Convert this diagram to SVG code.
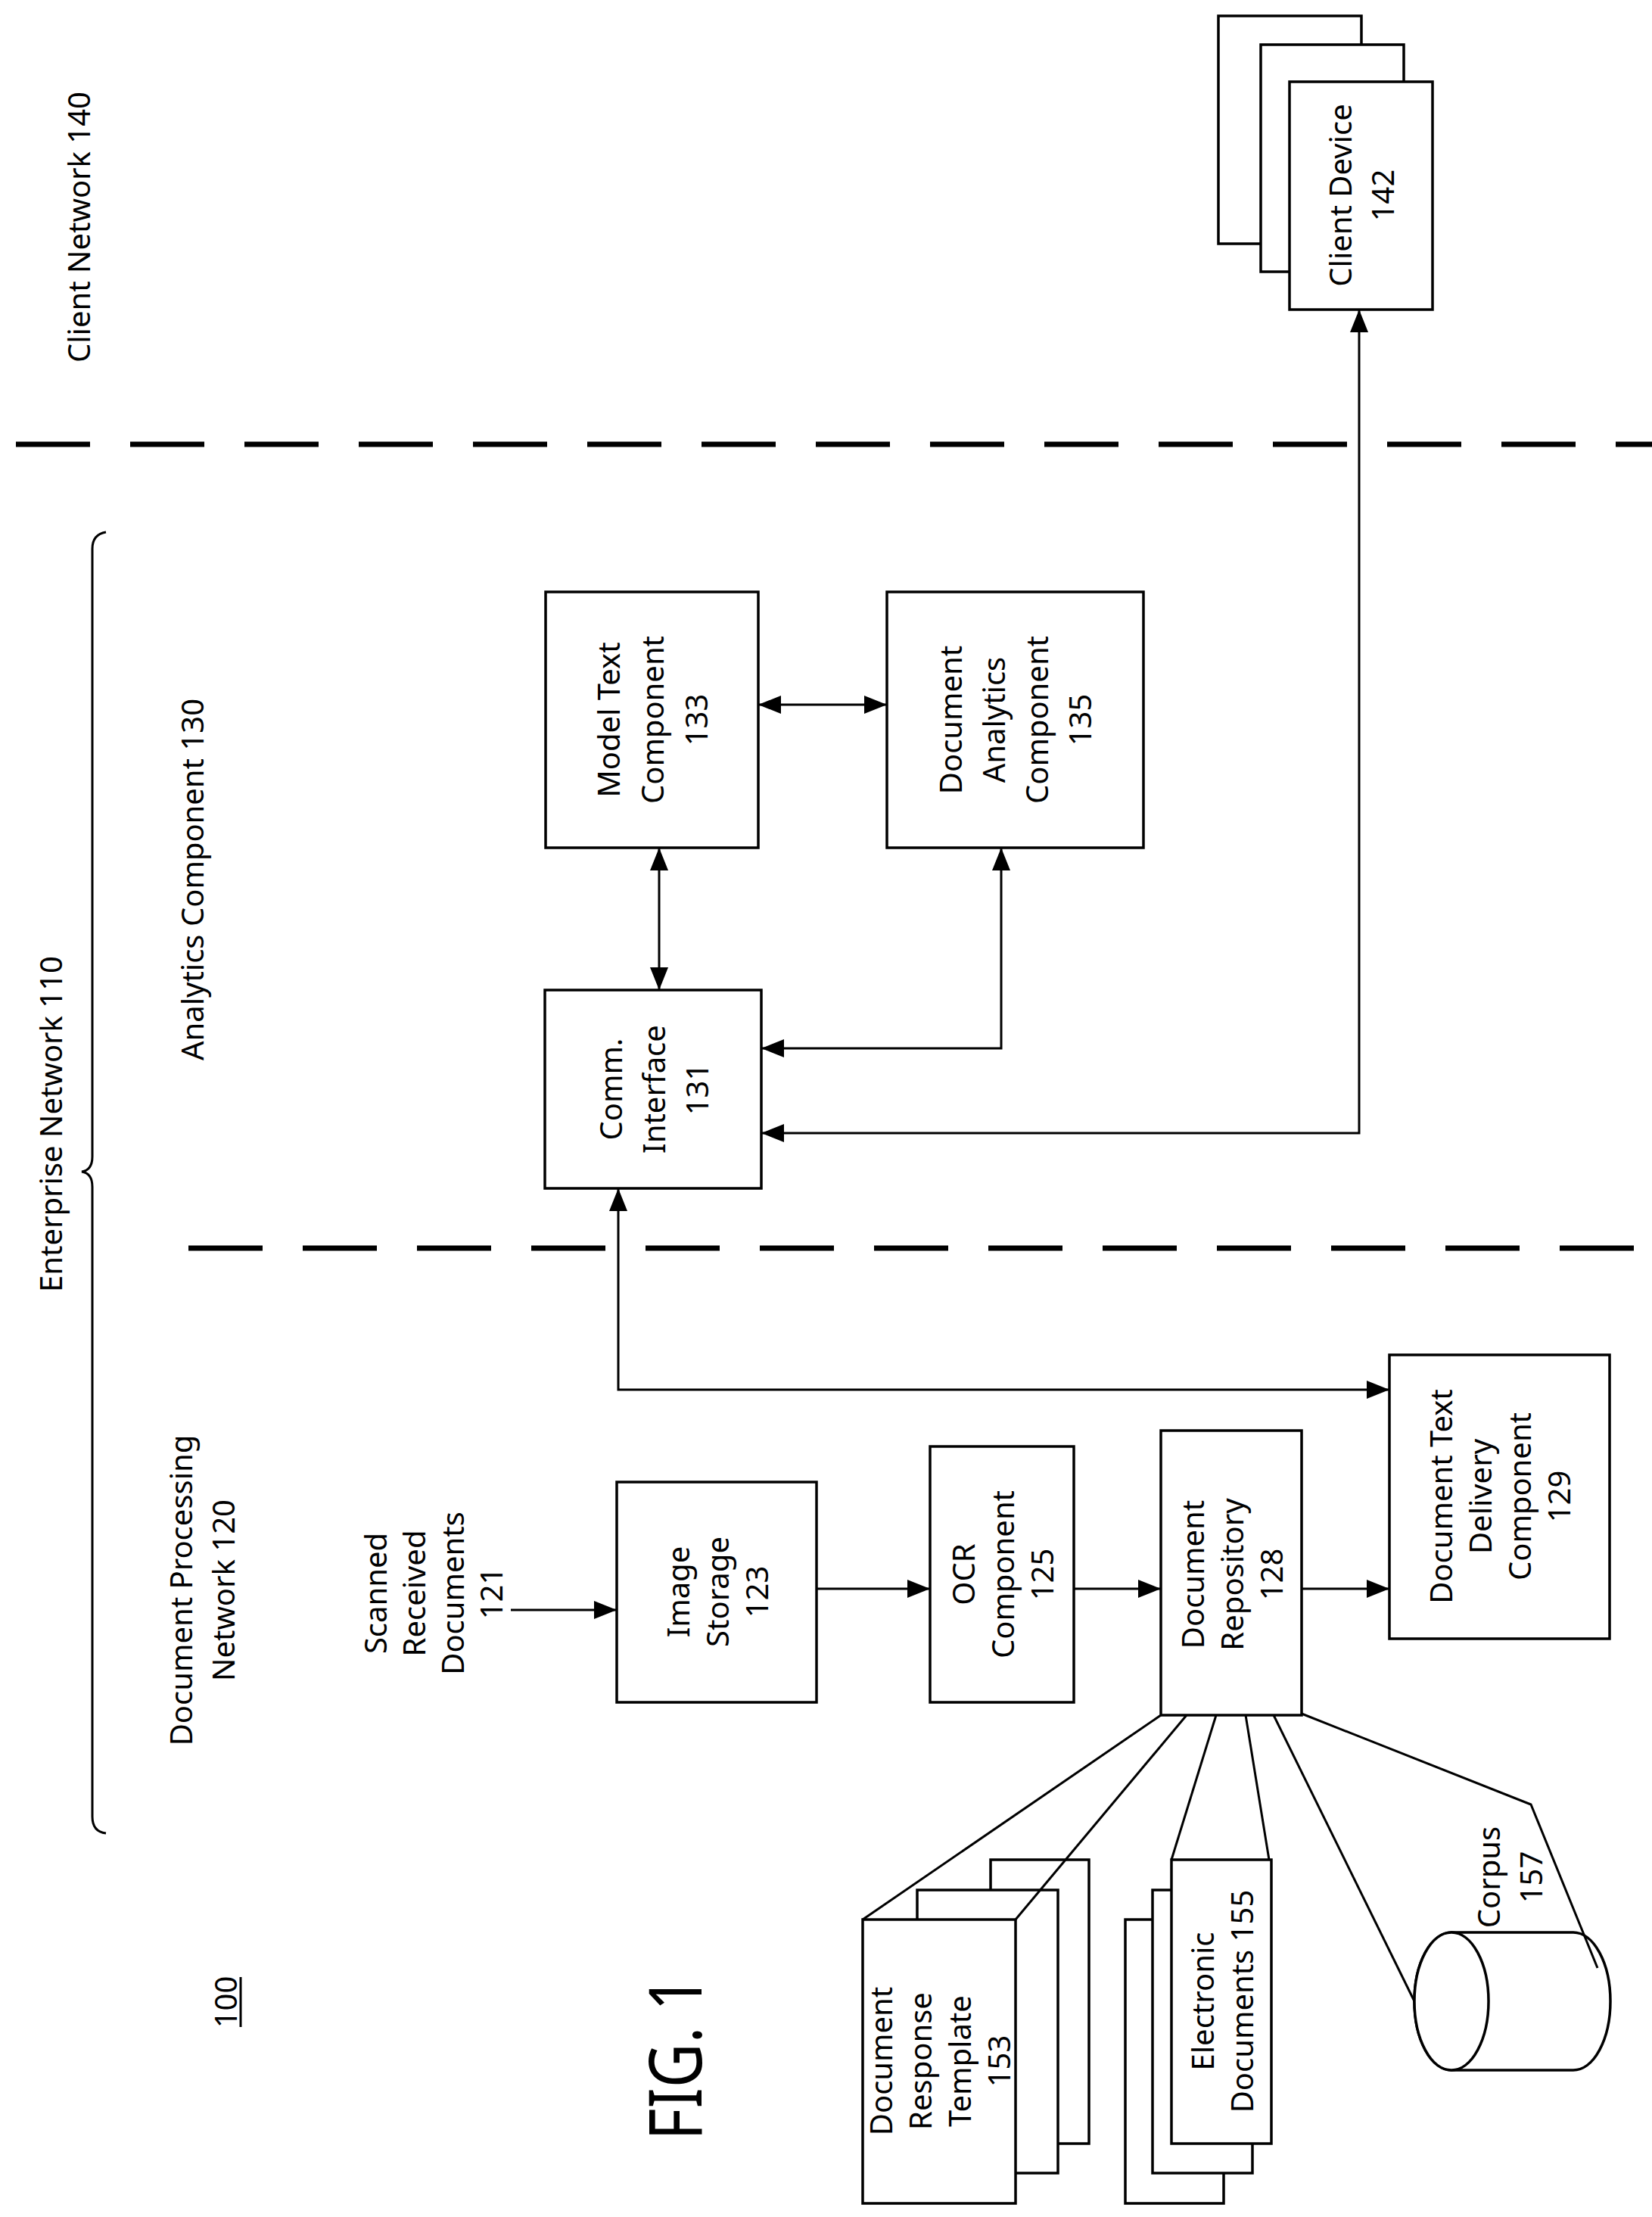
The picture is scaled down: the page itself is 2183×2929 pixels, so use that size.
<svg xmlns="http://www.w3.org/2000/svg" width="2183" height="2929" viewBox="0 0 2183 2929">
<style>
.b{fill:#fff;stroke:#000;stroke-width:3.5}
.l{fill:none;stroke:#000;stroke-width:3}
.d{fill:none;stroke:#000;stroke-width:7;stroke-dasharray:98 53}
text{font-family:"Noto Sans","DejaVu Sans",sans-serif;font-size:40px;text-anchor:middle;dominant-baseline:central;fill:#000}
</style>
<defs>
<marker id="a" markerUnits="userSpaceOnUse" markerWidth="30" markerHeight="24" refX="30" refY="12" orient="auto-start-reverse"><path d="M0,0L30,12L0,24z"/></marker>
</defs>
<rect width="2183" height="2929" fill="#fff"/>
<g id="dividers">
<line class="d" x1="21" y1="587" x2="2183" y2="587"/>
<line class="d" x1="249" y1="1649" x2="2183" y2="1649"/>
</g>
<g id="brace"><path class="l" d="M140,703Q122,706 122,725L122,1528Q122,1546 108,1548Q122,1550 122,1568L122,2400Q122,2420 140,2422"/></g>
<g id="labels">
<text transform="rotate(-90 103 300)" x="103" y="300">Client Network 140</text>
<text transform="rotate(-90 253 1162)" x="253" y="1162">Analytics Component 130</text>
<text transform="rotate(-90 66 1485)" x="66" y="1485">Enterprise Network 110</text>
<g transform="rotate(-90 266 2101)"><text x="266" y="2073">Document Processing</text><text x="266" y="2129">Network 120</text></g>
<text transform="rotate(-90 297 2645)" x="297" y="2645">100</text>
<line class="l" x1="318" y1="2612" x2="318" y2="2678"/>
<text transform="rotate(-90 889 2719)" x="889" y="2719" style="font-size:96px" textLength="217" lengthAdjust="spacingAndGlyphs">FIG. 1</text>
<g transform="rotate(-90 572 2105)"><text x="572" y="2028">Scanned</text><text x="572" y="2079">Received</text><text x="572" y="2130">Documents</text><text x="572" y="2181">121</text></g>
</g>
<g id="client-device">
<rect class="b" x="1610" y="21" width="189" height="301"/>
<rect class="b" x="1666" y="59" width="189" height="300"/>
<rect class="b" x="1704" y="108" width="189" height="301"/>
<g transform="rotate(-90 1798 258)"><text x="1798" y="230">Client Device</text><text x="1798" y="286">142</text></g>
</g>
<g id="model-text">
<rect class="b" x="721" y="782" width="281" height="338"/>
<g transform="rotate(-90 861 951)"><text x="861" y="893">Model Text</text><text x="861" y="951">Component</text><text x="861" y="1009">133</text></g>
</g>
<g id="doc-analytics">
<rect class="b" x="1172" y="782" width="339" height="338"/>
<g transform="rotate(-90 1341 951)"><text x="1341" y="865">Document</text><text x="1341" y="922">Analytics</text><text x="1341" y="979">Component</text><text x="1341" y="1036">135</text></g>
</g>
<g id="comm-interface">
<rect class="b" x="720" y="1308" width="286" height="262"/>
<g transform="rotate(-90 863 1439)"><text x="863" y="1382">Comm.</text><text x="863" y="1439">Interface</text><text x="863" y="1496">131</text></g>
</g>
<g id="image-storage">
<rect class="b" x="815" y="1958" width="264" height="291"/>
<g transform="rotate(-90 947 2103)"><text x="947" y="2051">Image</text><text x="947" y="2103">Storage</text><text x="947" y="2155">123</text></g>
</g>
<g id="ocr">
<rect class="b" x="1229" y="1911" width="190" height="338"/>
<g transform="rotate(-90 1324 2080)"><text x="1324" y="2028">OCR</text><text x="1324" y="2080">Component</text><text x="1324" y="2132">125</text></g>
</g>
<g id="doc-repository">
<rect class="b" x="1534" y="1890" width="186" height="376"/>
<g transform="rotate(-90 1627 2080)"><text x="1627" y="2028">Document</text><text x="1627" y="2080">Repository</text><text x="1627" y="2132">128</text></g>
</g>
<g id="doc-text-delivery">
<rect class="b" x="1836" y="1790" width="291" height="375"/>
<g transform="rotate(-90 1981 1977)"><text x="1981" y="1899">Document Text</text><text x="1981" y="1951">Delivery</text><text x="1981" y="2003">Component</text><text x="1981" y="2055">129</text></g>
</g>
<g id="template">
<rect class="b" x="1309" y="2457" width="130" height="375"/>
<rect class="b" x="1212" y="2497" width="186" height="374"/>
<rect class="b" x="1140" y="2536" width="202" height="375"/>
<g transform="rotate(-90 1241 2723)"><text x="1241" y="2645">Document</text><text x="1241" y="2697">Response</text><text x="1241" y="2749">Template</text><text x="1241" y="2801">153</text></g>
</g>
<g id="electronic-docs">
<rect class="b" x="1487" y="2536" width="130" height="375"/>
<rect class="b" x="1523" y="2497" width="132" height="374"/>
<rect class="b" x="1548" y="2457" width="132" height="375"/>
<g transform="rotate(-90 1614 2644)"><text x="1614" y="2618">Electronic</text><text x="1614" y="2670">Documents 155</text></g>
</g>
<g id="corpus">
<path class="b" d="M1918,2553L2079,2553A49,91 0 0 1 2079,2735L1918,2735A49,91 0 0 1 1918,2553Z"/>
<ellipse class="b" cx="1918" cy="2644" rx="49" ry="91"/>
<g transform="rotate(-90 1994 2480)"><text x="1994" y="2452">Corpus</text><text x="1994" y="2508">157</text></g>
</g>
<g id="connectors">
<line class="l" x1="1002" y1="931" x2="1172" y2="931" marker-start="url(#a)" marker-end="url(#a)"/>
<line class="l" x1="871" y1="1120" x2="871" y2="1308" marker-start="url(#a)" marker-end="url(#a)"/>
<polyline class="l" points="1323,1120 1323,1385 1006,1385" marker-start="url(#a)" marker-end="url(#a)"/>
<polyline class="l" points="1006,1497 1796,1497 1796,409" marker-start="url(#a)" marker-end="url(#a)"/>
<polyline class="l" points="817,1570 817,1836 1836,1836" marker-start="url(#a)" marker-end="url(#a)"/>
<line class="l" x1="675" y1="2127" x2="815" y2="2127" marker-end="url(#a)"/>
<line class="l" x1="1079" y1="2099" x2="1229" y2="2099" marker-end="url(#a)"/>
<line class="l" x1="1419" y1="2099" x2="1534" y2="2099" marker-end="url(#a)"/>
<line class="l" x1="1720" y1="2099" x2="1836" y2="2099" marker-end="url(#a)"/>
<line class="l" x1="1534" y1="2266" x2="1140" y2="2536"/>
<line class="l" x1="1568" y1="2266" x2="1342" y2="2536"/>
<line class="l" x1="1607" y1="2266" x2="1548" y2="2457"/>
<line class="l" x1="1646" y1="2266" x2="1677" y2="2457"/>
<line class="l" x1="1683" y1="2266" x2="1869" y2="2644"/>
<polyline class="l" points="1720,2264 2023,2384 2111,2600"/>
</g>
</svg>
